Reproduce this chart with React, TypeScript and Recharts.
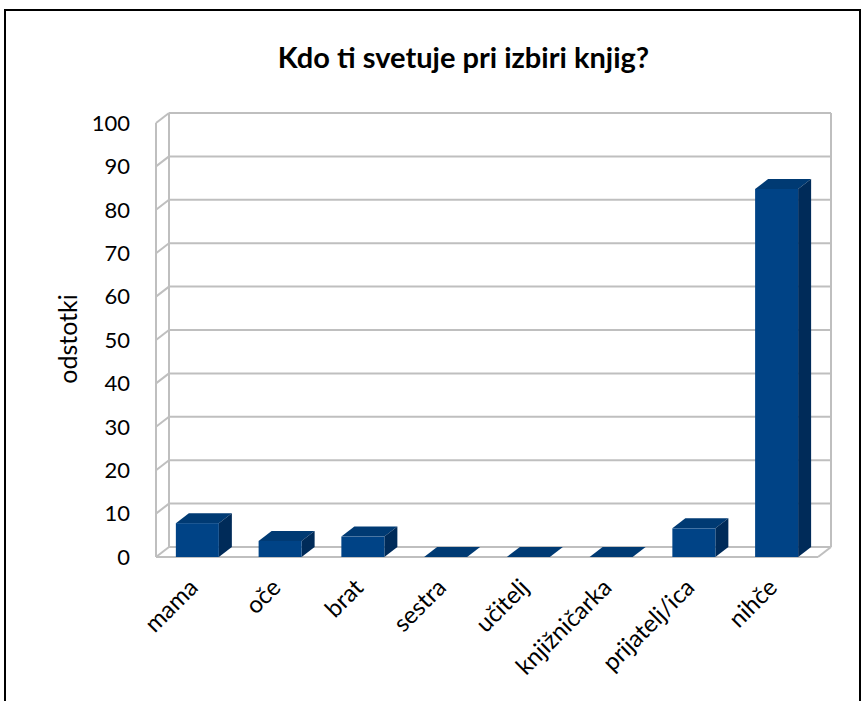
import { BarChart, Bar, XAxis, YAxis, CartesianGrid, ReferenceArea } from 'recharts';

// kategorije in odstotki (prebrano s slike)
const categories = ['mama', 'oče', 'brat', 'sestra', 'učitelj', 'knjižničarka', 'prijatelj/ica', 'nihče'];
const percents = [7.8, 3.7, 4.7, 0, 0, 0, 6.6, 84.8];
const yTicks = [0, 10, 20, 30, 40, 50, 60, 70, 80, 90, 100];

const data = categories.map((name, i) => ({ name, value: percents[i] }));

const DX = 13; // globina 3D v x
const DY = 10; // globina 3D v y
const GRID = '#bfbfbf';
const FONT = 'Lato, "Open Sans", sans-serif';

// 3D stolpec: sprednja ploskev, vrh in desna stranica
function Column3D(props: any) {
  const { x, y, width, height } = props;
  if (x == null || y == null) return null;
  const h = Math.max(0, height);
  return (
    <g>
      <polygon
        points={`${x},${y} ${x + DX},${y - DY} ${x + width + DX},${y - DY} ${x + width},${y}`}
        fill="#003a73"
      />
      <polygon
        points={`${x + width},${y} ${x + width + DX},${y - DY} ${x + width + DX},${y + h - DY} ${x + width},${y + h}`}
        fill="#002b59"
      />
      <rect x={x} y={y} width={width} height={h} fill="#004386" />
    </g>
  );
}

// vodoravne mrežne črte na zadnji steni + poševnice na levi
function GridLine(p: any) {
  const { x1, y1, x2 } = p;
  return (
    <g key={p.key}>
      <line x1={x1} y1={y1} x2={x1 + DX} y2={y1 - DY} stroke={GRID} strokeWidth={2} />
      <line x1={x1 + DX} y1={y1 - DY} x2={x2 + DX} y2={y1 - DY} stroke={GRID} strokeWidth={2} />
    </g>
  );
}

// stene: zadnja leva/desna navpičnica, tla spredaj in desna poševnica
function Walls(p: any) {
  const { x, y, width, height } = p;
  const b = y + height;
  const r = x + width;
  return (
    <g fill="none" stroke={GRID} strokeWidth={2}>
      <line x1={x + DX} y1={y - DY} x2={x + DX} y2={b - DY} />
      <line x1={r + DX} y1={y - DY} x2={r + DX} y2={b - DY} />
      <line x1={x} y1={y} x2={x} y2={b} />
      <line x1={x} y1={b} x2={r} y2={b} />
      <line x1={r} y1={b} x2={r + DX} y2={b - DY} />
    </g>
  );
}

function CategoryTick(props: any) {
  const { x, y, payload } = props;
  return (
    <g transform={`translate(${x - 10},${y + 12})`}>
      <text
        transform="rotate(-45)"
        textAnchor="end"
        dy="0.71em"
        fill="#000"
        fontSize={24}
        fontFamily={FONT}
      >
        {payload.value}
      </text>
    </g>
  );
}

function AxisTitle(props: any) {
  return (
    <text
      x={67}
      y={339}
      transform="rotate(-90, 67, 339)"
      textAnchor="middle"
      dominantBaseline="central"
      fontSize={25}
      fontFamily={FONT}
      fill="#000"
    >
      odstotki
    </text>
  );
}

export default function App() {
  return (
    <div style={{ position: 'absolute', left: 0, top: 0, width: 861, height: 701, overflow: 'hidden', background: '#fff' }}>
      <div
        style={{
          position: 'absolute',
          left: 4,
          top: 9,
          width: 853,
          height: 720,
          border: '2px solid #000',
        }}
      />
      <div
        style={{
          position: 'absolute',
          left: 0,
          width: 861,
          top: 38,
          textAlign: 'center',
          paddingLeft: 66,
          boxSizing: 'border-box',
          fontFamily: FONT,
          fontWeight: 700,
          fontSize: 29,
          lineHeight: '38px',
          color: '#000',
        }}
      >
        Kdo ti svetuje pri izbiri knjig?
      </div>
      <div style={{ position: 'absolute', left: 0, top: 0 }}>
        <BarChart
          width={861}
          height={701}
          data={data}
          margin={{ top: 123, right: 43, bottom: 0, left: 0 }}
          barCategoryGap="24%"
        >
          <CartesianGrid horizontal={GridLine} vertical={false} />
          <ReferenceArea y1={0} y2={100} shape={Walls} ifOverflow="visible" />
          <XAxis
            dataKey="name"
            height={144}
            axisLine={false}
            tickLine={false}
            interval={0}
            tick={<CategoryTick />}
          />
          <YAxis
            width={156}
            domain={[0, 100]}
            ticks={yTicks}
            axisLine={false}
            tickLine={false}
            tickSize={0}
            tickMargin={26}
            tick={{ fill: '#000', fontSize: 22, fontFamily: FONT }}
            label={<AxisTitle />}
          />
          <Bar dataKey="value" shape={<Column3D />} isAnimationActive={false} />
        </BarChart>
      </div>
    </div>
  );
}
